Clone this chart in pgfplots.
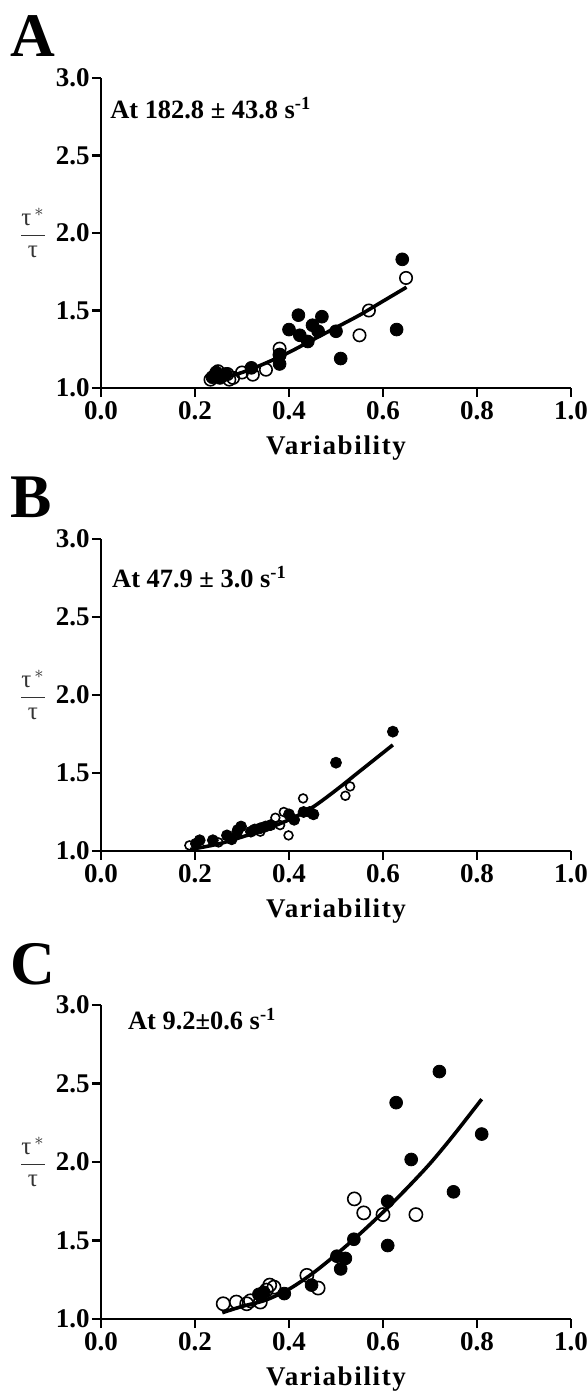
\documentclass[border=0pt]{standalone}
\usepackage{pgfplots}
\pgfplotsset{compat=1.18}
\usepackage{fontspec}
\setmainfont{Liberation Serif}
\newcommand{\tk}{\bfseries\fontsize{13.5}{13.5}\selectfont}
\newcommand{\xl}{\bfseries\fontsize{13.5}{13.5}\selectfont\addfontfeature{LetterSpace=6}}
\pgfplotsset{panel/.style={
  scale only axis, width=235pt,
  xmin=0, xmax=1, ymin=1, ymax=3,
  axis lines*=left,
  axis line style={line width=1.4pt},
  xtick={0,0.2,0.4,0.6,0.8,1.0},
  ytick={1,1.5,2,2.5,3},
  tick align=outside, major tick length=4.5pt,
  every tick/.style={black, line width=1.4pt},
  ticklabel style={font=\tk},
  xticklabel style={/pgf/number format/fixed, /pgf/number format/fixed zerofill, /pgf/number format/precision=1, inner sep=2pt},
  yticklabel style={/pgf/number format/fixed, /pgf/number format/fixed zerofill, /pgf/number format/precision=1, inner sep=1pt},
  /pgf/number format/assume math mode=true,
  xlabel={Variability},
  every axis x label/.style={at={(rel axis cs:0.5,0)}, anchor=center, yshift=-30pt, font=\xl},
  clip=false,
  filled/.style={only marks, mark=*, mark size=3.2pt, black},
  hollow/.style={only marks, mark=o, mark size=3.1pt, mark options={line width=0.8pt, fill=white, draw=black}},
  fit/.style={no marks, black, line width=1.8pt, smooth},
}}
\newcommand{\yl}{\node[font=\fontsize{12.5}{12.5}\selectfont, text=black!80] at (rel axis cs:0,0.5) [xshift=-34pt] {$\displaystyle\frac{\mbox{τ}^{\,*}}{\mbox{τ}}$};}
\newcommand{\an}{\bfseries\fontsize{13.2}{13.2}\selectfont}
\begin{document}
\begin{tikzpicture}
\useasboundingbox (0,0) rectangle (294pt,697pt);
% ---------------- A ----------------
\node[anchor=base west, font=\bfseries\fontsize{31}{31}\selectfont, inner sep=0pt] at (5pt,668.5pt) {A};
\begin{axis}[panel, height=155pt, at={(50.5pt,503pt)}, anchor=origin]
\addplot[filled] coordinates {
(0.641,1.83) (0.629,1.377) (0.51,1.19) (0.50,1.366) (0.42,1.47) (0.47,1.46)
(0.40,1.377) (0.423,1.34) (0.45,1.405) (0.462,1.366) (0.44,1.30) (0.38,1.155)
(0.38,1.21) (0.32,1.13) (0.245,1.10) (0.237,1.07) (0.253,1.065) (0.265,1.09)
};
\addplot[hollow] coordinates {
(0.649,1.71) (0.57,1.50) (0.55,1.34) (0.38,1.254) (0.38,1.215) (0.351,1.118)
(0.323,1.086) (0.30,1.10) (0.281,1.065) (0.269,1.09) (0.233,1.054) (0.257,1.075)
(0.273,1.054) (0.249,1.108)
};
\addplot[fit] coordinates {
(0.23,1.04) (0.30,1.10) (0.35,1.16) (0.40,1.23) (0.45,1.31) (0.50,1.39)
(0.55,1.47) (0.60,1.56) (0.65,1.65)
};
\node[anchor=west, font=\an, inner sep=0pt] at (axis cs:0.019,2.806) {At 182.8 ± 43.8 s\textsuperscript{-1}};
\yl
\end{axis}
% ---------------- B ----------------
\node[anchor=base west, font=\bfseries\fontsize{31}{31}\selectfont, inner sep=0pt] at (5pt,438pt) {B};
\begin{axis}[panel, height=156pt, at={(50.5pt,271.5pt)}, anchor=origin]
\addplot[filled, mark size=2.75pt] coordinates {
(0.621,1.765) (0.50,1.566) (0.452,1.235) (0.444,1.25) (0.431,1.25) (0.411,1.20)
(0.40,1.235) (0.361,1.166) (0.35,1.157) (0.339,1.146) (0.327,1.138) (0.319,1.124)
(0.298,1.157) (0.29,1.124) (0.278,1.075) (0.268,1.10) (0.238,1.069) (0.21,1.069)
(0.202,1.047)
};
\addplot[hollow, mark size=2.2pt] coordinates {
(0.53,1.414) (0.52,1.354) (0.43,1.337) (0.399,1.10) (0.389,1.25) (0.371,1.213)
(0.381,1.166) (0.339,1.124) (0.25,1.055) (0.188,1.036) (0.29,1.138)
};
\addplot[fit] coordinates {
(0.19,1.01) (0.25,1.045) (0.30,1.09) (0.35,1.14) (0.40,1.20) (0.45,1.28)
(0.50,1.39) (0.55,1.51) (0.621,1.68)
};
\node[anchor=west, font=\an, inner sep=0pt] at (axis cs:0.023,2.756) {At 47.9 ± 3.0 s\textsuperscript{-1}};
\yl
\end{axis}
% ---------------- C ----------------
\node[anchor=base west, font=\bfseries\fontsize{31}{31}\selectfont, inner sep=0pt] at (5pt,204.5pt) {C};
\begin{axis}[panel, height=157pt, at={(50.5pt,37.5pt)}, anchor=origin]
\addplot[filled] coordinates {
(0.72,2.576) (0.628,2.378) (0.81,2.178) (0.66,2.016) (0.75,1.81) (0.61,1.75)
(0.61,1.468) (0.538,1.508) (0.52,1.386) (0.502,1.40) (0.51,1.319) (0.448,1.216)
(0.39,1.162) (0.336,1.157) (0.346,1.17)
};
\addplot[hollow, mark size=3.3pt] coordinates {
(0.539,1.765) (0.559,1.676) (0.60,1.665) (0.67,1.665) (0.438,1.278) (0.462,1.197)
(0.359,1.216) (0.368,1.203) (0.339,1.108) (0.318,1.116) (0.31,1.097) (0.288,1.108)
(0.26,1.097) (0.352,1.184)
};
\addplot[fit] coordinates {
(0.258,1.04) (0.30,1.08) (0.35,1.12) (0.40,1.19) (0.45,1.29) (0.50,1.41)
(0.55,1.54) (0.60,1.68) (0.65,1.83) (0.70,1.99) (0.75,2.17) (0.81,2.40)
};
\node[anchor=west, font=\an, inner sep=0pt] at (axis cs:0.057,2.91) {At 9.2±0.6 s\textsuperscript{-1}};
\yl
\end{axis}
\end{tikzpicture}
\end{document}
